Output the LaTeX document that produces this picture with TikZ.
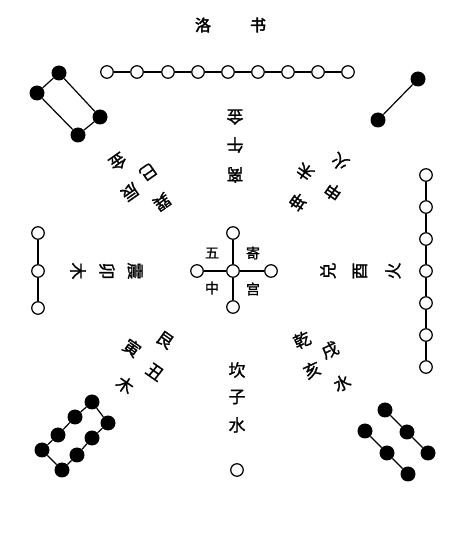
\documentclass[tikz,border=0pt]{standalone}
\usepackage{fontspec}
\newfontfamily\cjk[FakeBold=1.2]{Noto Sans CJK SC}
\newfontfamily\cjkbold[FakeBold=2.5]{Noto Sans CJK SC}
\begin{document}
\begin{tikzpicture}[x=1pt, y=1pt,
  wdot/.style={circle, draw, line width=1.2pt, fill=white, minimum size=12.5pt, inner sep=0pt},
  bdot/.style={circle, fill=black, minimum size=15pt, inner sep=0pt},
  zi/.style={font=\cjk\fontsize{17}{17}\selectfont, inner sep=0pt},
  xiao/.style={font=\cjk\fontsize{14}{14}\selectfont, inner sep=0pt},
  link/.style={line width=1.2pt}]
  \useasboundingbox (0,0) rectangle (453,542);

  % Title
  \node[font=\cjkbold\fontsize{16}{16}\selectfont, inner sep=0pt] (luo) at (203,517) {洛};
  \node[font=\cjkbold\fontsize{16}{16}\selectfont, inner sep=0pt] (shu) at (258,517) {书};

  % Nine (south, top row)
  \node[wdot] (nine1) at (107,470) {};
  \node[wdot] (nine2) at (137,470) {};
  \node[wdot] (nine3) at (168,470) {};
  \node[wdot] (nine4) at (198,470) {};
  \node[wdot] (nine5) at (228,470) {};
  \node[wdot] (nine6) at (258,470) {};
  \node[wdot] (nine7) at (288,470) {};
  \node[wdot] (nine8) at (318,470) {};
  \node[wdot] (nine9) at (348,470) {};
  \draw[link] (nine1) -- (nine2) (nine2) -- (nine3) (nine3) -- (nine4) (nine4) -- (nine5)
              (nine5) -- (nine6) (nine6) -- (nine7) (nine7) -- (nine8) (nine8) -- (nine9);
  \node[zi, rotate=180] (liJin) at (235,425) {金};
  \node[zi, rotate=180] (liWu) at (235,397) {午};
  \node[zi, rotate=180] (liLi) at (235,367) {离};

  % Four (south-east, top left)
  \node[bdot] (four1) at (59,469) {};
  \node[bdot] (four2) at (37,449) {};
  \node[bdot] (four3) at (100,425) {};
  \node[bdot] (four4) at (78,407) {};
  \draw[link] (four1) -- (four2) -- (four4) -- (four3) -- (four1);
  \node[zi, rotate=-145] (xunJin) at (118,380) {金};
  \node[zi, rotate=-145] (xunSi) at (148,370) {巳};
  \node[zi, rotate=-145] (xunChen) at (130,350) {辰};
  \node[zi, rotate=-145] (xunXun) at (162,340) {巽};

  % Two (south-west, top right)
  \node[bdot] (two1) at (418,463) {};
  \node[bdot] (two2) at (378,422) {};
  \draw[link] (two1) -- (two2);
  \node[zi, rotate=145] (kunHuo) at (340,380) {火};
  \node[zi, rotate=145] (kunWei) at (305,370) {未};
  \node[zi, rotate=145] (kunShen) at (333,350) {申};
  \node[zi, rotate=145] (kunKun) at (298,340) {坤};

  % Three (east, left)
  \node[wdot] (three1) at (38,309) {};
  \node[wdot] (three2) at (38,271) {};
  \node[wdot] (three3) at (38,234) {};
  \draw[link] (three1) -- (three2) -- (three3);
  \node[zi, rotate=-90] (zhenMu) at (78,271) {木};
  \node[zi, rotate=-90] (zhenMao) at (107,271) {卯};
  \node[zi, rotate=-90] (zhenZhen) at (135,271) {震};

  % Five (centre)
  \node[wdot] (five0) at (233,271) {};
  \node[wdot] (fiveN) at (233,309) {};
  \node[wdot] (fiveW) at (197,271) {};
  \node[wdot] (fiveE) at (271,271) {};
  \node[wdot] (fiveS) at (233,235) {};
  \draw[link] (five0) -- (fiveN) (five0) -- (fiveW) (five0) -- (fiveE) (five0) -- (fiveS);
  \node[xiao] (zhWu) at (212,289) {五};
  \node[xiao] (zhJi) at (253,289) {寄};
  \node[xiao] (zhZhong) at (212,254) {中};
  \node[xiao] (zhGong) at (253,253) {宫};

  % Seven (west, right)
  \node[wdot] (seven1) at (426,367) {};
  \node[wdot] (seven2) at (426,335) {};
  \node[wdot] (seven3) at (426,303) {};
  \node[wdot] (seven4) at (426,271) {};
  \node[wdot] (seven5) at (426,239) {};
  \node[wdot] (seven6) at (426,207) {};
  \node[wdot] (seven7) at (426,175) {};
  \draw[link] (seven1) -- (seven2) -- (seven3) -- (seven4) -- (seven5) -- (seven6) -- (seven7);
  \node[zi, rotate=90] (duiDui) at (328,271) {兑};
  \node[zi, rotate=90] (duiYou) at (360,271) {酉};
  \node[zi, rotate=90] (duiHuo) at (393,271) {火};

  % Eight (north-east, bottom left)
  \node[bdot] (eight1) at (92,140) {};
  \node[bdot] (eight2) at (75,125) {};
  \node[bdot] (eight3) at (58,107) {};
  \node[bdot] (eight4) at (42,92) {};
  \node[bdot] (eight5) at (62,72) {};
  \node[bdot] (eight6) at (77,87) {};
  \node[bdot] (eight7) at (92,104) {};
  \node[bdot] (eight8) at (108,119) {};
  \draw[link] (eight1) -- (eight2) -- (eight3) -- (eight4) -- (eight5) -- (eight6)
              -- (eight7) -- (eight8) -- (eight1);
  \node[zi, rotate=-35] (genGen) at (165,202) {艮};
  \node[zi, rotate=-35] (genYin) at (132,194) {寅};
  \node[zi, rotate=-35] (genChou) at (155,170) {丑};
  \node[zi, rotate=-35] (genMu) at (125,157) {木};

  % One (north, bottom)
  \node[zi] (kanKan) at (237,172) {坎};
  \node[zi] (kanZi) at (237,145) {子};
  \node[zi] (kanShui) at (237,117) {水};
  \node[wdot] (one) at (237,72) {};

  % Six (north-west, bottom right)
  \node[bdot] (six1) at (385,132) {};
  \node[bdot] (six2) at (407,110) {};
  \node[bdot] (six3) at (428,89) {};
  \node[bdot] (six4) at (365,111) {};
  \node[bdot] (six5) at (387,89) {};
  \node[bdot] (six6) at (408,68) {};
  \draw[link] (six1) -- (six2) -- (six3);
  \draw[link] (six4) -- (six5) -- (six6);
  \node[zi, rotate=25] (qianQian) at (302,202) {乾};
  \node[zi, rotate=25] (qianXu) at (330,192) {戌};
  \node[zi, rotate=25] (qianHai) at (312,172) {亥};
  \node[zi, rotate=25] (qianShui) at (342,159) {水};
\end{tikzpicture}
\end{document}
